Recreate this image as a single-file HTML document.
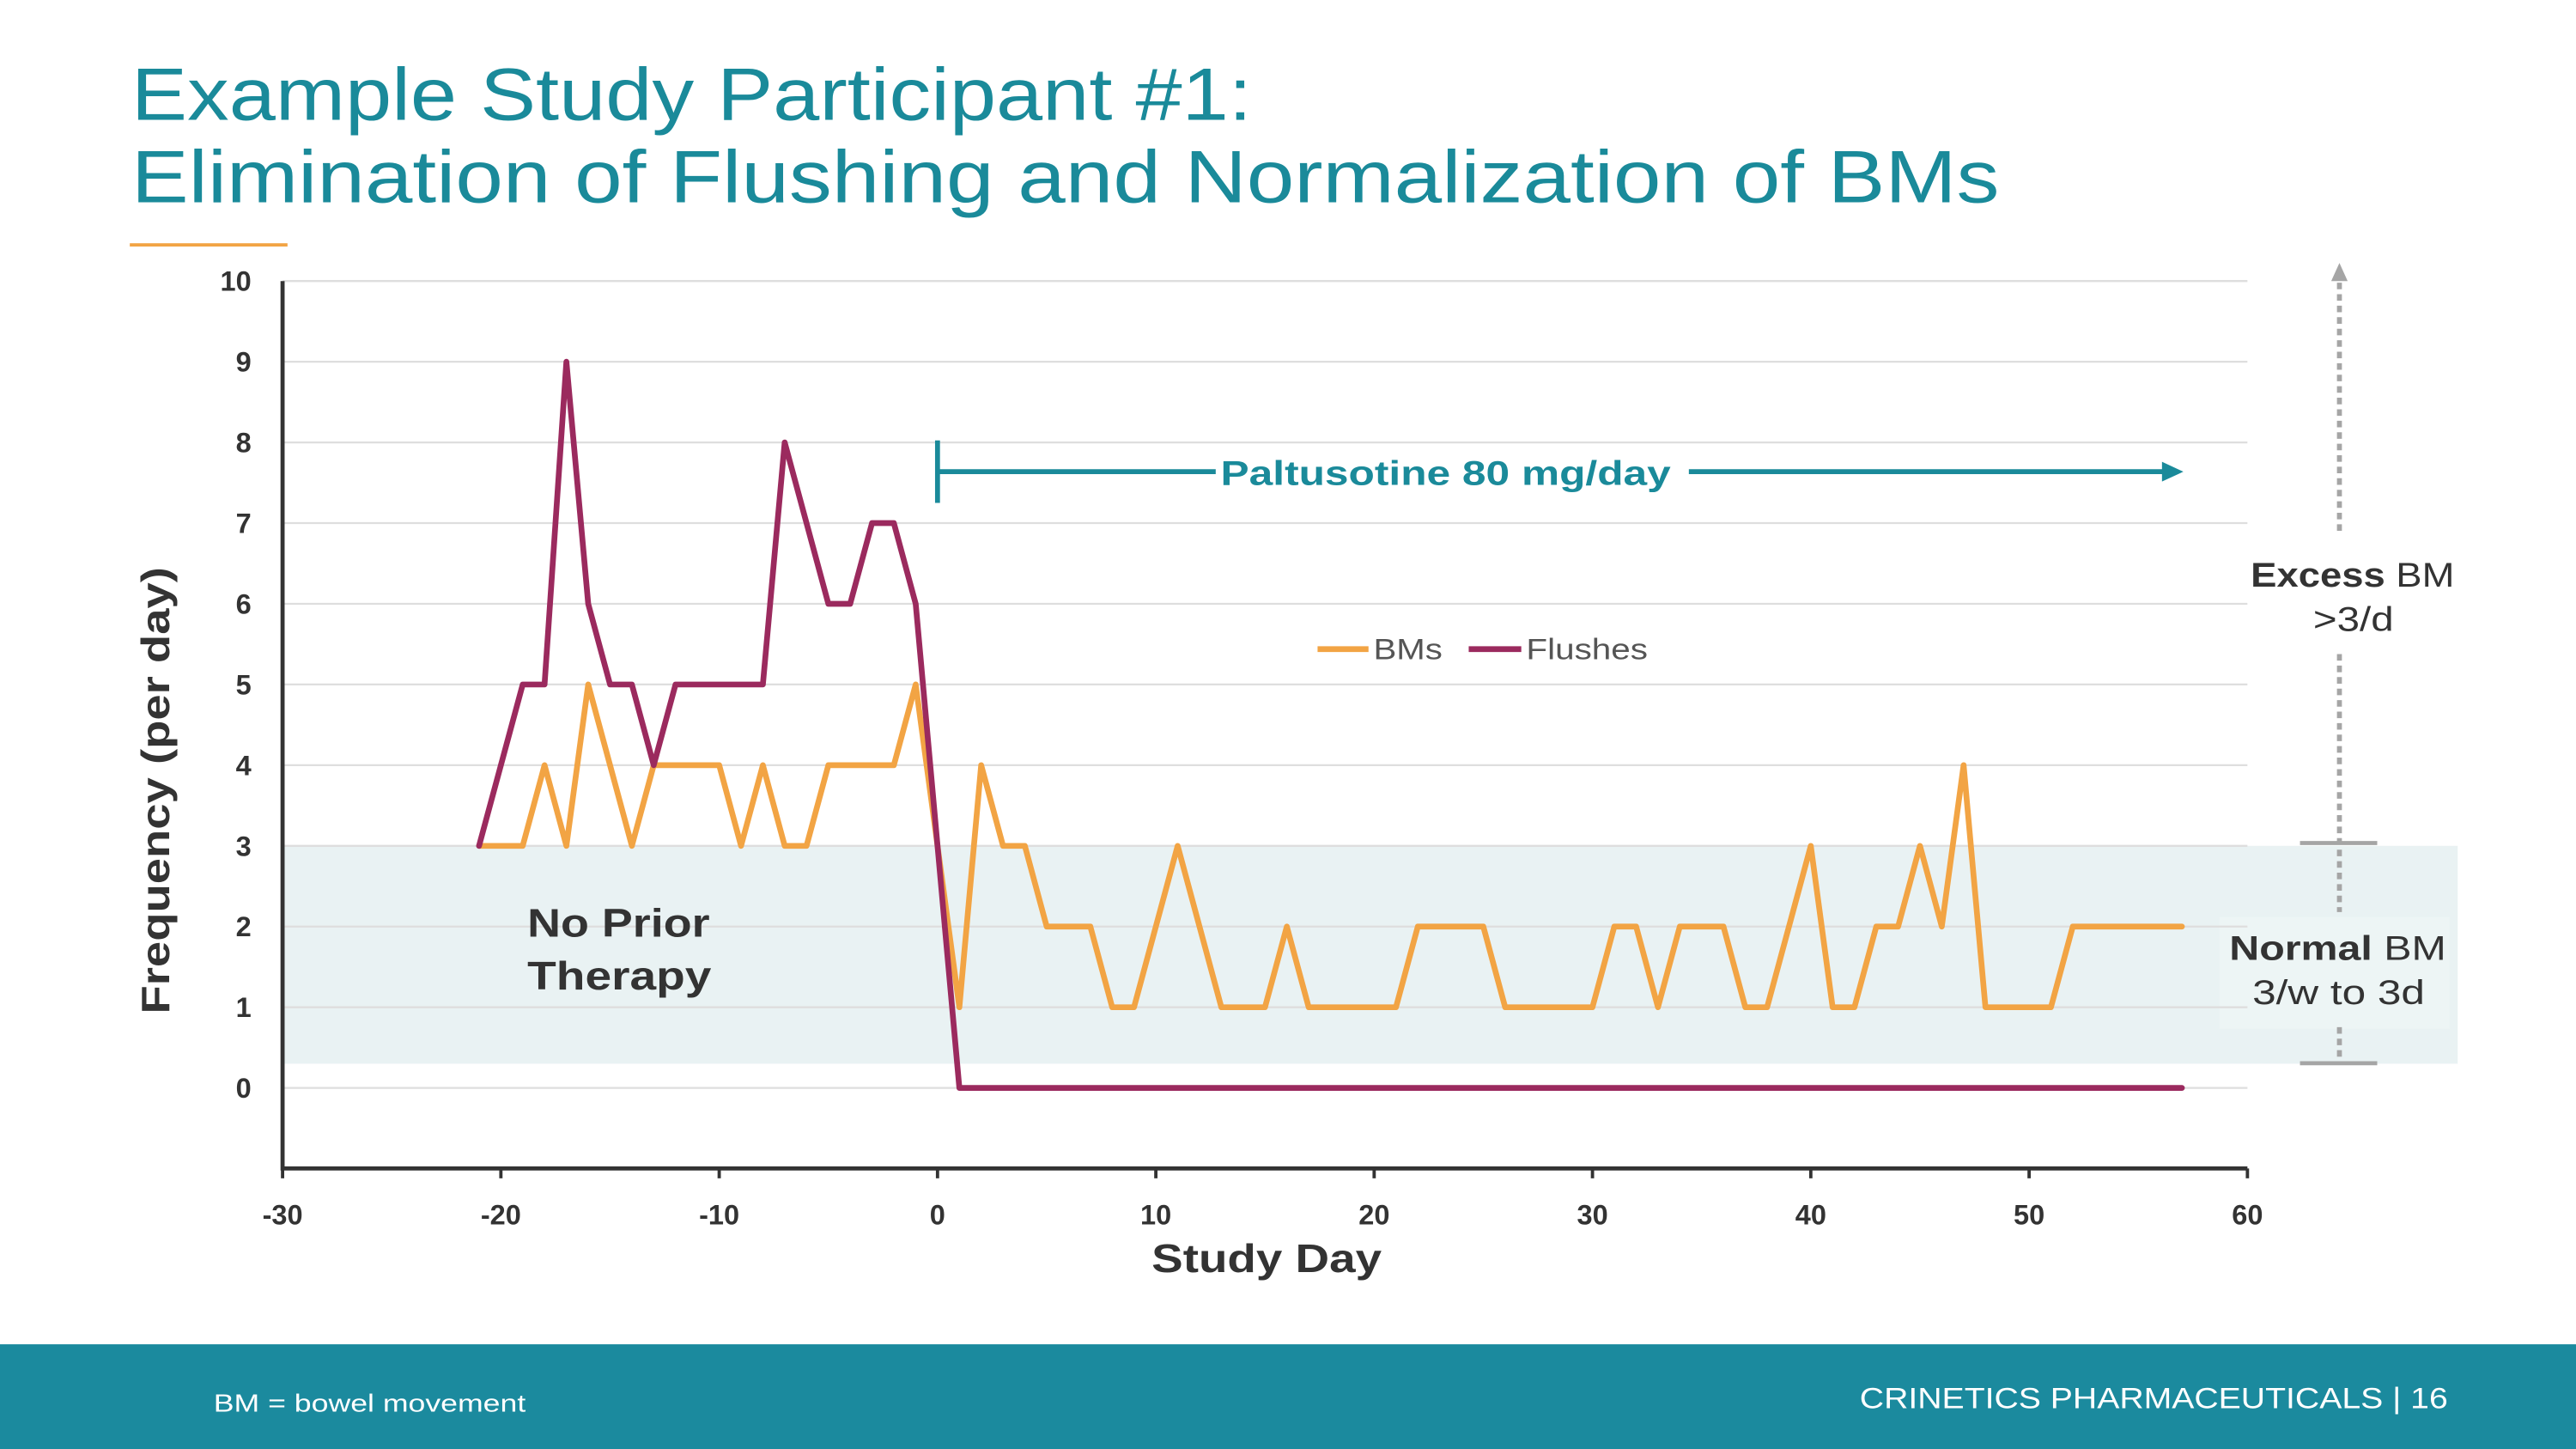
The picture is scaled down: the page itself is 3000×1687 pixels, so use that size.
<!DOCTYPE html>
<html><head><meta charset="utf-8"><style>
html,body{margin:0;padding:0;background:#fff;}
svg{display:block;font-family:"Liberation Sans",sans-serif;}
</style></head><body>
<svg id="chart" width="3000" height="1687" viewBox="0 0 1568 881.7" xmlns="http://www.w3.org/2000/svg">
<text x="80" y="73" font-size="45" fill="#1a8a9a" textLength="682" lengthAdjust="spacingAndGlyphs">Example Study Participant #1:</text>
<text x="80" y="123" font-size="45" fill="#1a8a9a" textLength="1137" lengthAdjust="spacingAndGlyphs">Elimination of Flushing and Normalization of BMs</text>
<rect x="79" y="148" width="96" height="2" fill="#f2a444"/>
<g id="plot"></g>
<rect x="0" y="818" width="1568" height="64" fill="#1b8a9e"/>
<text x="130" y="859" font-size="15" fill="#fff" textLength="190" lengthAdjust="spacingAndGlyphs">BM = bowel movement</text>
<text x="1132" y="857" font-size="18" fill="#fff" textLength="358" lengthAdjust="spacingAndGlyphs">CRINETICS PHARMACEUTICALS  |  16</text>
</svg>
<script>
const days = [-21,-20,-19,-18,-17,-16,-15,-14,-13,-12,-11,-10,-9,-8,-7,-6,-5,-4,-3,-2,-1,0,1,2,3,4,5,6,7,8,9,10,11,12,13,14,15,16,17,18,19,20,21,22,23,24,25,26,27,28,29,30,31,32,33,34,35,36,37,38,39,40,41,42,43,44,45,46,47,48,49,50,51,52,53,54,55,56,57];
const bms = [3,3,3,4,3,5,4,3,4,4,4,4,3,4,3,3,4,4,4,4,5,3,1,4,3,3,2,2,2,1,1,2,3,2,1,1,1,2,1,1,1,1,1,2,2,2,2,1,1,1,1,1,2,2,1,2,2,2,1,1,2,3,1,1,2,2,3,2,4,1,1,1,1,2,2,2,2,2,2];
const flushes = [3,4,5,5,9,6,5,5,4,5,5,5,5,5,8,7,6,6,7,7,6,3,0,0,0,0,0,0,0,0,0,0,0,0,0,0,0,0,0,0,0,0,0,0,0,0,0,0,0,0,0,0,0,0,0,0,0,0,0,0,0,0,0,0,0,0,0,0,0,0,0,0,0,0,0,0,0,0,0];
const xTicks = [-30,-20,-10,0,10,20,30,40,50,60];
const yTicks = [0,1,2,3,4,5,6,7,8,9,10];
const normalBand = [0.3,3];

const NS='http://www.w3.org/2000/svg';
const g=document.getElementById('plot');
const X0=172,X1=1368,Y0=662,Y10=171;
const xs=d=>X0+(d+30)*(X1-X0)/90;
const ys=v=>Y0-v*(Y0-Y10)/10;
function mk(tag,attrs,parent){const e=document.createElementNS(NS,tag);for(const k in attrs)e.setAttribute(k,attrs[k]);(parent||g).appendChild(e);return e;}

let e;
e=mk('rect',{x:X0,y:ys(normalBand[1]),width:1496-X0,height:ys(normalBand[0])-ys(normalBand[1]),fill:'#e9f2f3'});


e=mk('rect',{x:1351,y:558,width:140,height:68,fill:'#edf5f5'});



yTicks.forEach(v=>{
  e=mk('line',{x1:X0,x2:X1,y1:ys(v),y2:ys(v),stroke:'#dedede','stroke-width':1.2});
  
  
  e=mk('text',{x:153,y:ys(v)+6,'font-size':17,'font-weight':'bold',fill:'#333','text-anchor':'end'});
  e.textContent=v;
  
  
});
xTicks.forEach(d=>{
  e=mk('line',{x1:xs(d),x2:xs(d),y1:711,y2:717,stroke:'#333','stroke-width':2});
  
  
  e=mk('text',{x:xs(d),y:745,'font-size':17,'font-weight':'bold',fill:'#333','text-anchor':'middle'});
  e.textContent=d;
  
  
});
e=mk('path',{d:`M${X0} ${Y10}V711H${X1}`,stroke:'#333','stroke-width':2.5,fill:'none'});


e=mk('text',{x:701,y:774,'font-size':24,'font-weight':'bold',fill:'#333',textLength:140,lengthAdjust:'spacingAndGlyphs'});
e.textContent='Study Day';


e=mk('text',{x:-136,y:0,'font-size':24,'font-weight':'bold',fill:'#333',transform:'translate(103,481) rotate(-90)',textLength:272,lengthAdjust:'spacingAndGlyphs'});
e.textContent='Frequency (per day)';



function series(vals,color,name){
  const d=vals.map((v,i)=>(i?'L':'M')+xs(days[i]).toFixed(2)+' '+ys(v).toFixed(2)).join('');
  const p=mk('path',{d:d,stroke:color,'stroke-width':3.5,fill:'none','stroke-linejoin':'round','stroke-linecap':'round'});
  
  
}
series(bms,'#f2a444','bms-line');
series(flushes,'#9b2a5e','flushes-line');

e=mk('path',{d:`M${xs(0)} 268V306M${xs(0)} 287H740M1028 287H1318`,stroke:'#1a8a9a','stroke-width':3,fill:'none'});


e=mk('path',{d:'M1316 281L1329 287L1316 293Z',fill:'#1a8a9a'});


e=mk('text',{x:880,y:295,'font-size':21,'font-weight':'bold',fill:'#1a8a9a','text-anchor':'middle',textLength:274,lengthAdjust:'spacingAndGlyphs'});
e.textContent='Paltusotine 80 mg/day';



e=mk('line',{x1:802,x2:833,y1:395,y2:395,stroke:'#f2a444','stroke-width':3.5});


e=mk('text',{x:836,y:401,'font-size':18,fill:'#555',textLength:42,lengthAdjust:'spacingAndGlyphs'});
e.textContent='BMs';


e=mk('line',{x1:894,x2:926,y1:395,y2:395,stroke:'#9b2a5e','stroke-width':3.5});


e=mk('text',{x:929,y:401,'font-size':18,fill:'#555',textLength:74,lengthAdjust:'spacingAndGlyphs'});
e.textContent='Flushes';



e=mk('text',{x:321,y:570,'font-size':24,'font-weight':'bold',fill:'#333',textLength:111,lengthAdjust:'spacingAndGlyphs'});
e.textContent='No Prior';


e=mk('text',{x:321,y:602,'font-size':24,'font-weight':'bold',fill:'#333',textLength:112,lengthAdjust:'spacingAndGlyphs'});
e.textContent='Therapy';



e=mk('path',{d:'M1424 172V325M1424 398V555M1424 625V647',stroke:'#a5a5a5','stroke-width':3,'stroke-dasharray':'4 3',fill:'none'});


e=mk('path',{d:'M1419 171L1424 160L1429 171Z',fill:'#a5a5a5'});


e=mk('path',{d:'M1400 513H1447M1400 647H1447',stroke:'#a5a5a5','stroke-width':2.5});


function rlabel(x,y,w,b,n,name){
  const t=mk('text',{x:x,y:y,'font-size':21,fill:'#333',textLength:w,lengthAdjust:'spacingAndGlyphs'});
  const s1=mk('tspan',{'font-weight':'bold'},t);s1.textContent=b;
  const s2=mk('tspan',{},t);s2.textContent=n;
  
  
}
rlabel(1370,357,124,'Excess',' BM','excess-label');
rlabel(1408,384,49,'','>3/d','excess-range');
rlabel(1357,584,132,'Normal',' BM','normal-label');
rlabel(1371,611,105,'','3/w to 3d','normal-range');
</script>
</body></html>
